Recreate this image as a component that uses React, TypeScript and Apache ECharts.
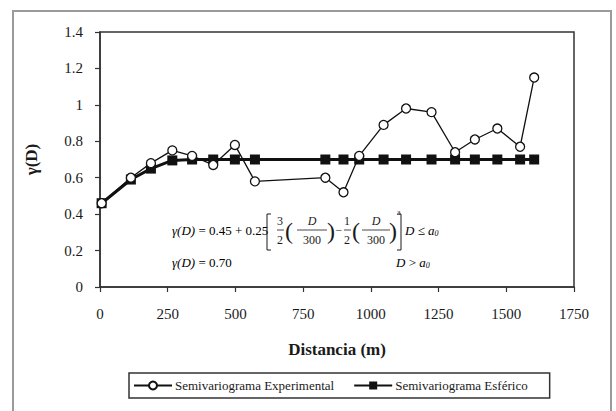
import React, { useEffect, useRef } from "react";
import * as echarts from "echarts";

const distances = [6, 114, 188, 267, 340, 418, 498, 572, 832, 899, 957, 1047, 1130, 1224, 1311, 1384, 1467, 1551, 1603];
const experimental = [0.46, 0.6, 0.68, 0.75, 0.72, 0.67, 0.78, 0.58, 0.6, 0.52, 0.72, 0.89, 0.98, 0.96, 0.74, 0.81, 0.87, 0.77, 1.15];
const spherical = [0.46, 0.59, 0.65, 0.695, 0.7, 0.7, 0.7, 0.7, 0.7, 0.7, 0.7, 0.7, 0.7, 0.7, 0.7, 0.7, 0.7, 0.7, 0.7];
const seriesNames = ["Semivariograma Experimental", "Semivariograma Esférico"];
const xAxisTitle = "Distancia (m)";
const yAxisTitle = "γ(D)";

const FONT = "Liberation Serif";
const INK = "#1a1a1a";

function txt(text: string, x: number, y: number, size: number, opts: any = {}) {
  return {
    type: "text",
    x,
    y,
    style: {
      text,
      fontFamily: FONT,
      fontSize: size,
      fontStyle: opts.italic ? "italic" : "normal",
      fill: INK,
      align: opts.align || "left",
      verticalAlign: "middle",
    },
  };
}
function bar(x1: number, x2: number, y: number) {
  return { type: "line", shape: { x1, y1: y, x2, y2: y }, style: { stroke: INK, lineWidth: 0.8 } };
}

export default function App() {
  const ref = useRef<HTMLDivElement>(null);
  useEffect(() => {
    if (!ref.current) return;
    const chart = echarts.init(ref.current, null, { renderer: "svg" });
    const rich = {
      i: { fontFamily: FONT, fontStyle: "italic", fontSize: 13, color: INK },
      n: { fontFamily: FONT, fontSize: 13, color: INK },
      s: { fontFamily: FONT, fontStyle: "italic", fontSize: 8, color: INK, padding: [6, 0, 0, 0] },
    };
    chart.setOption({
      animation: false,
      backgroundColor: "#ffffff",
      textStyle: { fontFamily: FONT },
      grid: {
        left: 100,
        right: 42,
        top: 32,
        bottom: 124,
        show: true,
        borderColor: "#333",
        borderWidth: 1.5,
        backgroundColor: "transparent",
      },
      legend: {
        left: 129,
        top: 373,
        width: 427,
        itemWidth: 38,
        itemHeight: 10,
        itemGap: 19,
        padding: [6, 22, 6, 4],
        borderColor: "#333",
        borderWidth: 1.5,
        textStyle: { fontFamily: FONT, fontSize: 13, color: INK, padding: [0, 0, 0, -2] },
        data: seriesNames,
      },
      xAxis: {
        type: "value",
        min: 0,
        max: 1750,
        interval: 250,
        name: xAxisTitle,
        nameLocation: "middle",
        nameGap: 54,
        nameTextStyle: { fontFamily: FONT, fontSize: 17, fontWeight: "bold", color: INK },
        axisLine: { show: true, lineStyle: { color: "#333", width: 1.5 } },
        axisTick: { show: true, length: 5, lineStyle: { color: "#333", width: 1.2 } },
        axisLabel: { fontFamily: FONT, fontSize: 15, color: INK, margin: 19, formatter: (v: number) => String(v) },
        splitLine: { show: false },
      },
      yAxis: {
        type: "value",
        min: 0,
        max: 1.4,
        interval: 0.2,
        name: yAxisTitle,
        nameLocation: "middle",
        nameGap: 60,
        nameRotate: 90,
        nameTextStyle: { fontFamily: FONT, fontSize: 17, fontWeight: "bold", color: INK },
        axisLine: { show: true, lineStyle: { color: "#333", width: 1.5 } },
        axisTick: { show: true, length: 5, lineStyle: { color: "#333", width: 1.2 } },
        axisLabel: {
          fontFamily: FONT,
          fontSize: 15,
          color: INK,
          margin: 17,
          formatter: (v: number) => String(parseFloat(v.toFixed(1))),
        },
        splitLine: { show: false },
      },
      series: [
        {
          name: seriesNames[0],
          type: "line",
          data: distances.map((d, i) => [d, experimental[i]]),
          symbol: "circle",
          symbolSize: 9,
          z: 5,
          lineStyle: { color: "#111", width: 1.3 },
          itemStyle: { color: "#fff", borderColor: "#111", borderWidth: 1.3 },
        },
        {
          name: seriesNames[1],
          type: "line",
          data: distances.map((d, i) => [d, spherical[i]]),
          symbol: "rect",
          symbolSize: 10,
          z: 3,
          lineStyle: { color: "#111", width: 3 },
          itemStyle: { color: "#111", borderColor: "#111", borderWidth: 0 },
        },
      ],
      graphic: [
        {
          type: "rect",
          shape: { x: 13, y: 11, width: 598, height: 420 },
          style: { fill: "none", stroke: "#9a9a9a", lineWidth: 2 },
          silent: true,
        },
        // formula line 1
        {
          type: "text",
          x: 172,
          y: 230,
          style: {
            text: "{i|γ(D)}{n| = 0.45 + 0.25}",
            rich,
            verticalAlign: "middle",
          },
        },
        { type: "polyline", shape: { points: [[271, 214], [267, 214], [267, 250], [271, 250]] }, style: { stroke: INK, lineWidth: 1, fill: "none" } },
        txt("3", 280, 221, 12, { align: "center" }),
        bar(277, 284, 230),
        txt("2", 280, 240, 12, { align: "center" }),
        txt("(", 289, 231, 24, { align: "center" }),
        txt("D", 312, 221, 12, { align: "center", italic: true }),
        bar(297, 327, 230),
        txt("300", 312, 240, 12, { align: "center" }),
        txt(")", 331, 231, 24, { align: "center" }),
        txt("−", 339, 230, 12, { align: "center" }),
        txt("1", 347, 221, 12, { align: "center" }),
        bar(344, 351, 230),
        txt("2", 347, 240, 12, { align: "center" }),
        txt("(", 356, 231, 24, { align: "center" }),
        txt("D", 376, 221, 12, { align: "center", italic: true }),
        bar(362, 390, 230),
        txt("300", 376, 240, 12, { align: "center" }),
        txt(")", 393, 231, 24, { align: "center" }),
        txt("3", 397, 213, 7, { align: "left" }),
        { type: "polyline", shape: { points: [[397, 214], [401, 214], [401, 250], [397, 250]] }, style: { stroke: INK, lineWidth: 1, fill: "none" } },
        {
          type: "text",
          x: 405,
          y: 230,
          style: { text: "{i|D}{n| ≤ }{i|a}{s|0}", rich, verticalAlign: "middle" },
        },
        // formula line 2
        {
          type: "text",
          x: 172,
          y: 262,
          style: { text: "{i|γ(D)}{n| = 0.70}", rich, verticalAlign: "middle" },
        },
        {
          type: "text",
          x: 396,
          y: 262,
          style: { text: "{i|D}{n| > }{i|a}{s|0}", rich, verticalAlign: "middle" },
        },
      ],
    });
    return () => chart.dispose();
  }, []);
  return <div ref={ref} style={{ position: "fixed", left: 0, top: 0, width: 616, height: 411 }} />;
}
